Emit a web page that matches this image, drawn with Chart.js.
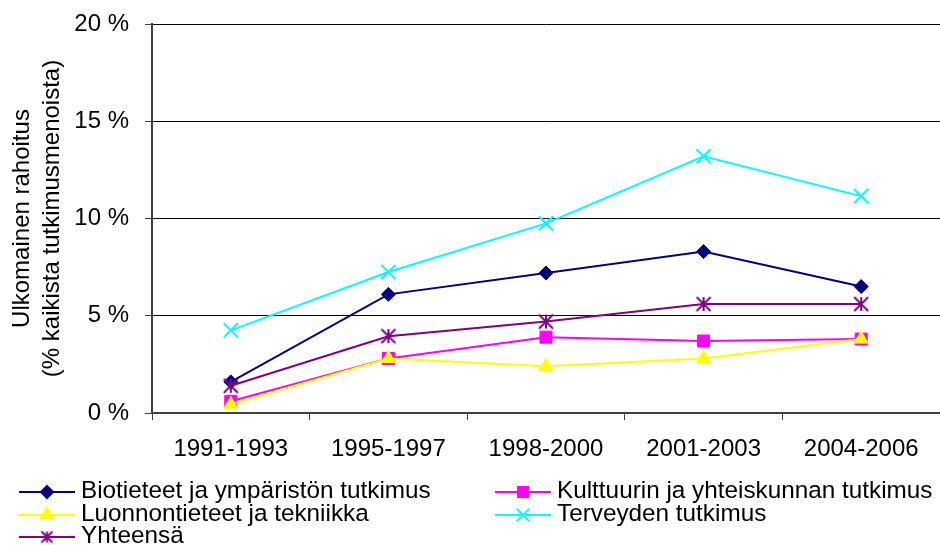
<!DOCTYPE html>
<html>
<head>
<meta charset="utf-8">
<script src="https://cdn.jsdelivr.net/npm/chart.js@4/dist/chart.umd.min.js"></script>
<style>
  html, body { margin: 0; padding: 0; background: #fff; }
</style>
</head>
<body>
<canvas id="chart" width="940" height="545"></canvas>
<script>
// periods on the x axis
const periods = ["1991-1993", "1995-1997", "1998-2000", "2001-2003", "2004-2006"];

// share of foreign funding, % of all research spending
const biotieteet = [1.6, 6.1, 7.2, 8.3, 6.5];
const kulttuuri = [0.6, 2.8, 3.9, 3.7, 3.8];
const luonnontieteet = [0.45, 2.8, 2.4, 2.8, 3.8];
const terveys = [4.25, 7.25, 9.75, 13.2, 11.15];
const yhteensa = [1.4, 3.95, 4.7, 5.6, 5.6];

const seriesNames = [
  "Biotieteet ja ympäristön tutkimus",
  "Kulttuurin ja yhteiskunnan tutkimus",
  "Luonnontieteet ja tekniikka",
  "Terveyden tutkimus",
  "Yhteensä",
];

const yTitle = ["Ulkomainen rahoitus", "(% kaikista tutkimusmenoista)"];

const FONT = "'Liberation Sans', Arial, sans-serif";

// excel style asterisk: X plus a vertical bar, h = half size
function asterisk(color, h, lw) {
  const c = document.createElement("canvas");
  const s = Math.ceil(h * 2 + lw + 2);
  c.width = s;
  c.height = s;
  const g = c.getContext("2d");
  const m = s / 2;
  g.strokeStyle = color;
  g.lineWidth = lw;
  g.beginPath();
  g.moveTo(m, m - h); g.lineTo(m, m + h);
  g.moveTo(m - h, m - h); g.lineTo(m + h, m + h);
  g.moveTo(m - h, m + h); g.lineTo(m + h, m - h);
  g.stroke();
  return c;
}

const mk = (label, data, color, style, radius, idx) => ({
  label,
  data,
  borderColor: color,
  backgroundColor: color,
  borderWidth: 2,
  pointStyle: style,
  pointRadius: radius,
  pointBorderWidth: style === "crossRot" ? 2 : 1,
  pointBackgroundColor: color,
  pointBorderColor: color,
  fill: false,
  tension: 0,
  order: 5 - idx, // later series on top, like the original
});

const datasets = [
  mk(seriesNames[0], biotieteet, "#000080", "rectRot", 7, 0),
  mk(seriesNames[1], kulttuuri, "#ff00ff", "rect", 8.5, 1),
  mk(seriesNames[2], luonnontieteet, "#ffff00", "triangle", 8, 2),
  mk(seriesNames[3], terveys, "#00ffff", "crossRot", 10, 3),
  mk(seriesNames[4], yhteensa, "#800080", asterisk("#800080", 7, 2), 8, 4),
];

// small markers for the legend
const legendMarks = [
  { pointStyle: "rectRot", radius: 6, borderWidth: 1 },
  { pointStyle: "rect", radius: 7, borderWidth: 1 },
  { pointStyle: "triangle", radius: 7, borderWidth: 1 },
  { pointStyle: "crossRot", radius: 9, borderWidth: 2 },
  { pointStyle: asterisk("#800080", 5.5, 2), radius: 7, borderWidth: 1 },
];

// legend drawn by hand: two columns, row-major, below the axis labels
const legendPlugin = {
  id: "excelLegend",
  afterDraw(chart) {
    const ctx = chart.ctx;
    const cols = [{ x0: 19, x1: 75, text: 81 }, { x0: 495, x1: 551, text: 557 }];
    const rowY = [492, 515, 537];
    ctx.save();
    ctx.font = "24.3px " + FONT;
    ctx.textBaseline = "middle";
    chart.data.datasets.forEach((ds, i) => {
      const c = cols[i % 2];
      const y = rowY[Math.floor(i / 2)];
      ctx.strokeStyle = ds.borderColor;
      ctx.fillStyle = ds.borderColor;
      ctx.lineWidth = 2;
      ctx.beginPath();
      ctx.moveTo(c.x0, y);
      ctx.lineTo(c.x1, y);
      ctx.stroke();
      Chart.helpers.drawPoint(ctx, { ...legendMarks[i], rotation: 0 }, (c.x0 + c.x1) / 2, y);
      ctx.fillStyle = "#000";
      ctx.fillText(ds.label, c.text, y - 1);
    });
    ctx.restore();
  },
};

new Chart(document.getElementById("chart"), {
  type: "line",
  data: { labels: periods, datasets },
  plugins: [legendPlugin],
  options: {
    responsive: false,
    animation: false,
    layout: { autoPadding: false, padding: { top: 24, right: 0, left: 0, bottom: 0 } },
    plugins: {
      legend: { display: false },
      tooltip: { enabled: false },
    },
    scales: {
      x: {
        offset: true,
        grid: {
          offset: true,
          drawOnChartArea: false,
          drawTicks: true,
          tickLength: 7,
          color: "#404040",
        },
        border: { color: "#404040", width: 2 },
        ticks: {
          color: "#000",
          padding: 15,
          maxRotation: 0,
          font: { family: FONT, size: 24 },
        },
        afterFit(scale) {
          scale.height = 132;
          scale.paddingLeft = 0;
          scale.paddingRight = 0;
        },
      },
      y: {
        min: 0,
        max: 20,
        ticks: {
          stepSize: 5,
          color: "#000",
          padding: 16,
          font: { family: FONT, size: 24 },
          callback: (v) => v + " %",
        },
        grid: {
          color: "#000",
          lineWidth: 1,
          tickLength: 7,
          tickColor: "#404040",
        },
        border: { color: "#404040", width: 2 },
        title: {
          display: true,
          text: yTitle,
          color: "#000",
          font: { family: FONT, size: 24, lineHeight: 1.25 },
          padding: { top: 7, bottom: 0 },
        },
        afterFit(scale) {
          scale.width = 152;
          scale.paddingTop = 0;
          scale.paddingBottom = 0;
        },
      },
    },
  },
});
</script>
</body>
</html>
